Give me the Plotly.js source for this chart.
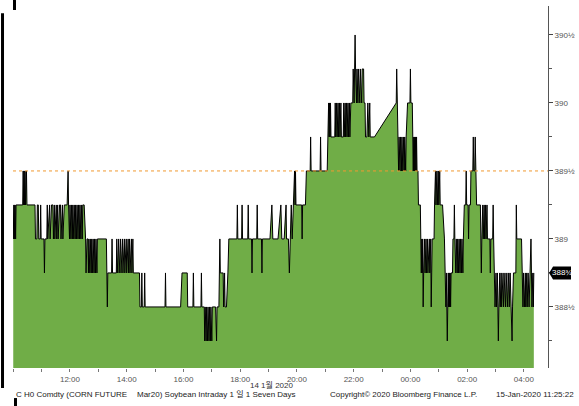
<!DOCTYPE html>
<html><head><meta charset="utf-8">
<script src="https://cdn.plot.ly/plotly-3.0.1.min.js"></script>
<style>html,body{margin:0;padding:0;background:#fff;}#chart{width:579px;height:406px;}</style>
</head><body><div id="chart"></div>
<script>
// Day session ticks (14 Jan 2020, KST) : [time, price]
const daySession = [
["10:00",389.25],["10:01",389],["10:02",389.25],["10:03",389],["10:04",389.25],["10:05",389],["10:06",389.25],
["10:20",389.25],["10:21",389.5],["10:22",389.25],["10:23",389.5],["10:24",389.25],["10:25",389.5],["10:26",389.25],["10:28",389.5],["10:29",389.25],
["10:46",389.25],["10:47",389],["10:50",389],["10:51",389.25],["10:53",389.25],["10:54",389],["10:57",389],["10:58",389.25],["10:59",389],
["11:05",389],["11:06",388.75],["11:07",389],
["11:11",389],["11:12",389.25],["11:13",389],["11:17",389.25],["11:18",389],["11:21",389.25],["11:24",389.25],["11:25",389],["11:27",389.25],["11:28",389],["11:31",389.25],["11:32",389],["11:34",389.25],["11:35",389],["11:38",389.25],["11:40",389.25],["11:41",389],["11:44",389.25],["11:45",389],["11:48",389.25],["11:54",389.25],["11:56",389.5],["11:57",389.25],
["11:59",389],["12:00",389.25],["12:02",389],["12:03",389.25],["12:05",389],["12:06",389.25],["12:08",389],["12:09",389.25],["12:11",389],["12:12",389.25],["12:14",389],["12:15",389.25],["12:17",389],["12:18",389.25],["12:20",389],["12:21",389.25],["12:23",389],["12:24",389.25],["12:26",389],["12:27",389.25],["12:30",389.25],
["12:33",389],["12:34",388.75],["12:36",389],["12:38",389],["12:39",388.75],["12:40",389],["12:42",388.75],["12:43",389],["12:45",388.75],["12:46",389],["12:48",388.75],["12:49",389],["12:51",388.75],["12:52",389],["12:54",388.75],["12:55",389],["12:57",388.75],["12:58",389],
["13:17",389],["13:18",388.75],["13:19",388.5],["13:20",388.75],["13:28",388.75],["13:29",389],["13:30",388.75],["13:38",388.75],["13:39",389],["13:40",388.75],
["13:43",389],["13:44",388.75],["13:47",389],["13:48",388.75],["13:51",389],["13:52",388.75],["13:55",389],["13:56",388.75],["13:59",389],["14:00",388.75],["14:03",389],["14:04",388.75],["14:06",389],["14:07",388.75],["14:10",389],["14:11",388.75],["14:13",389],["14:14",388.75],
["14:27",388.75],["14:28",388.5],["14:31",388.5],["14:32",388.75],["14:33",388.5],["14:37",388.5],["14:38",388.75],["14:39",388.5],
["15:21",388.5],["15:22",388.75],["15:23",388.5],
["15:54",388.5],["15:57",388.75],["16:08",388.75],["16:09",388.5],
["16:20",388.5],["16:21",388.75],["16:22",388.5],["16:37",388.5],["16:38",388.75],["16:39",388.5],
["16:44",388.5],["16:45",388.25],["16:46",388.5],["16:48",388.25],["16:49",388.5],["16:51",388.25],["16:52",388.5],["16:54",388.25],["16:55",388.5],["16:57",388.25],["16:58",388.5],["17:00",388.25],["17:01",388.5],
["17:08",388.5],["17:10",388.25],["17:11",388.5],
["17:15",388.5],["17:17",389],["17:18",388.75],["17:24",388.75],["17:25",388.5],["17:27",388.75],["17:28",388.5],["17:31",388.5],["17:34",388.75],["17:36",389],
["17:53",389],["17:54",389.25],["17:55",389],["18:03",389],["18:04",389.25],["18:05",389],["18:16",389],["18:17",389.25],["18:18",389],["18:24",389],["18:25",388.75],["18:26",389],["18:35",389],["18:36",389.25],["18:37",389],["18:45",389],["18:46",388.75],["18:47",389],["19:03",389],["19:07",389.25],["19:09",389],["19:20",389],["19:26",389.25],["19:28",389],["19:33",389],["19:37",389.25],["19:38",389],["19:42",389],["19:44",388.75],["19:46",389],["19:48",389.25],["19:50",389],["19:52",389.25],["19:55",389.5],["19:56",389.25],["19:57",389.5],["19:58",389.25],
["20:10",389.25],["20:11",389],["20:12",389.25],["20:18",389.25],["20:20",389.5],
["20:28",389.5],["20:29",389.75],["20:30",389.5],["20:49",389.5],["20:50",389.75],["20:51",389.5],["21:04",389.5],
["21:06",389.75],["21:07",390],["21:08",389.75],["21:09",390],["21:10",389.75],["21:11",390],["21:12",389.75],["21:20",389.75],["21:21",390],["21:22",389.75],["21:24",390],["21:25",389.75],["21:27",390],["21:28",389.75],["21:30",390],["21:31",389.75],["21:33",390],["21:34",389.75],["21:38",389.75],["21:39",390],["21:40",389.75],["21:42",390],["21:43",389.75],["21:45",390],["21:46",389.75],["21:48",390],["21:49",389.75],["21:51",390],["21:52",389.75],["21:54",390],
["21:58",390],["21:59",390.25],["22:01",390],["22:02",390.25],["22:03",390.5],["22:04",390.25],["22:06",390],["22:07",390.25],["22:09",390],["22:10",390.25],["22:13",390],["22:14",390.25],["22:17",390],["22:18",390.25],["22:21",390.25],["22:22",390],["22:24",390],["22:25",389.75],["22:28",389.75],["22:30",390],["22:32",389.75],["22:34",390],["22:35",389.75],["22:44",389.75]
];
// Night session ticks (continuing into 15 Jan 2020, KST)
const nightSession = [
["23:30",390],["23:31",390.25],["23:32",390],
["23:34",389.75],["23:35",389.5],["23:36",389.75],["23:38",389.5],["23:39",389.75],["23:41",389.5],["23:42",389.75],["23:44",389.5],["23:45",389.75],["23:47",389.5],["23:48",389.75],["23:50",389.5],["23:51",389.75],
["23:54",390],["23:59",390],["00:00",390.25],["00:01",390],["00:04",390],["00:05",389.75],["00:06",389.5],["00:07",389.75],["00:08",389.5],["00:09",389.75],["00:10",389.5],["00:11",389.75],["00:12",389.5],["00:13",389.75],["00:14",389.5],
["00:16",389.5],["00:17",389.25],["00:21",389.25],["00:22",389],
["00:23",388.75],["00:24",389],["00:25",388.75],["00:26",389],["00:27",388.5],["00:28",388.75],["00:30",389],["00:31",388.75],["00:33",389],["00:34",388.75],["00:36",389],["00:37",388.75],["00:40",389],["00:41",388.75],["00:43",389],["00:44",388.5],["00:45",388.75],["00:46",389],
["00:50",389],["00:51",389.25],["00:53",389.5],["00:54",389.25],["00:56",389.5],["00:57",389.25],["00:59",389.5],["01:00",389.25],["01:02",389.5],["01:03",389.25],["01:08",389.25],
["01:12",389],["01:13",388.75],["01:15",388.5],["01:16",388.75],["01:18",388.25],["01:19",388.5],["01:20",388.75],["01:21",388.5],["01:22",388.75],["01:23",388.5],["01:24",388.75],["01:25",388.5],["01:26",388.75],
["01:29",388.75],["01:30",389],["01:32",389],["01:33",389.25],["01:34",389],["01:36",388.75],["01:37",389],["01:39",388.75],["01:40",389],["01:42",388.75],["01:43",389],["01:45",388.75],["01:46",389],["01:48",388.75],["01:49",389],["01:51",388.75],["01:52",389],
["01:54",389.25],["01:57",389.25],["01:58",389.5],["01:59",389.25],["02:02",389.25],["02:03",389],["02:04",389.25],
["02:07",389.25],["02:08",389.5],["02:12",389.5],["02:13",389.75],["02:14",389.5],["02:16",389.5],["02:17",389.75],["02:18",389.5],["02:20",389.25],
["02:28",389.25],["02:29",389],["02:30",388.75],["02:31",389],
["02:33",389.25],["02:34",389],["02:36",389.25],["02:37",389],["02:39",389.25],["02:40",389],["02:42",389.25],["02:43",389],["02:45",389],["02:48",389],["02:49",388.75],["02:50",389],["02:54",389],["02:55",389.25],["02:56",389],
["02:58",388.75],["02:59",388.5],["03:01",388.75],["03:02",388.5],["03:04",388.75],["03:05",388.5],["03:06",388.25],["03:07",388.5],["03:09",388.75],["03:10",388.5],["03:12",388.75],["03:13",388.5],["03:16",388.75],["03:17",388.5],["03:20",388.75],["03:21",388.5],["03:24",388.75],["03:25",388.5],["03:28",388.75],["03:29",388.5],["03:31",388.75],["03:33",388.5],["03:35",388.25],["03:36",388.5],["03:38",388.75],
["03:43",388.75],["03:44",389.25],["03:45",389],["03:55",389],["03:56",388.75],["03:58",388.5],["03:59",388.75],["04:01",388.5],["04:03",388.75],["04:04",388.5],["04:06",388.75],["04:07",388.5],["04:09",388.75],["04:11",388.5],["04:13",388.75],["04:15",389],["04:16",388.75],["04:17",388.5],["04:19",388.75],["04:20",388.5],["04:21",388.75]
];
const refLevel = 389.5;
const xTickVals = ["2020-01-14 12:00","2020-01-14 14:00","2020-01-14 16:00","2020-01-14 18:00","2020-01-14 20:00","2020-01-14 22:00","2020-01-15 00:00","2020-01-15 02:00","2020-01-15 04:00"];
const xTickText = ["12:00","14:00","16:00","18:00","20:00","22:00","00:00","02:00","04:00"];
const yTickVals = [388.5, 389, 389.5, 390, 390.5];
const yMinorVals = [388.25, 388.75, 389.25, 389.75, 390.25];
const footerLeft1 = "C H0 Comdty (CORN FUTURE";
const footerLeft2 = "Mar20) Soybean Intraday 1 일 1 Seven Days";
const footerCopy = "Copyright© 2020 Bloomberg Finance L.P.";
const footerStamp = "15-Jan-2020 11:25:22";
const dateLabel = "14 1월 2020";

function toDate(hm){ const h = parseInt(hm.slice(0,2),10); return "2020-01-" + (h >= 10 ? "14" : "15") + " " + hm; }
function fracLabel(v){
  const ip = Math.floor(v), f = v - ip;
  const m = {0:"",0.25:"¼",0.5:"½",0.75:"¾"};
  return ip + (m[f] || "");
}
const allTicks = daySession.concat(nightSession);
const times = allTicks.map(p => toDate(p[0]));
const prices = allTicks.map(p => p[1]);
const lastPrice = prices[prices.length-1];

const FONT = '"Liberation Sans", Arial, "Noto Sans CJK KR", sans-serif';
const trace = {
  type:'scatter', mode:'lines', x:times, y:prices,
  line:{color:'#000', width:1}, fill:'tozeroy', fillcolor:'#70ad47', hoverinfo:'skip'
};
const layout = {
  width:579, height:406, margin:{l:13, r:31, t:6, b:38},
  paper_bgcolor:'#fff', plot_bgcolor:'#fff', showlegend:false,
  font:{family:FONT, size:8, color:'#222'},
  xaxis:{type:'date', range:['2020-01-14 09:59:30','2020-01-15 04:51'],
    tickmode:'array', tickvals:xTickVals, ticktext:xTickText,
    ticks:'outside', ticklen:3, tickcolor:'#777', tickfont:{size:8, color:'#555', family:FONT},
    showgrid:false, zeroline:false, showline:false,
    minor:{dtick:3600000, tick0:'2020-01-14 00:00', ticks:'outside', ticklen:3, tickcolor:'#777'}},
  yaxis:{side:'right', range:[388.051, 390.713], tickmode:'array', tickvals:yTickVals,
    ticktext:yTickVals.map(fracLabel), ticks:'outside', ticklen:4, tickcolor:'#444',
    tickfont:{size:8, color:'#555', family:FONT},
    showline:true, linecolor:'#555', linewidth:1, showgrid:false, zeroline:false,
    minor:{tickmode:'array', tickvals:yMinorVals, ticks:'outside', ticklen:3, tickcolor:'#555'}},
  shapes:[
    {type:'line', xref:'paper', yref:'y', x0:0, x1:1, y0:refLevel, y1:refLevel, layer:'above',
     line:{color:'#f09a30', width:1, dash:'dot'}},
    {type:'path', xref:'paper', yref:'y', layer:'above', fillcolor:'#000', line:{width:0},
     path:`M 1.002,${lastPrice} L 1.0095,${lastPrice+0.048} L 1.043,${lastPrice+0.048} L 1.043,${lastPrice-0.048} L 1.0095,${lastPrice-0.048} Z`},
    {type:'rect', xref:'paper', yref:'paper', x0:-0.0224, x1:-0.0168, y0:-0.055, y1:0.98, fillcolor:'#000', line:{width:0}},
    {type:'rect', xref:'paper', yref:'paper', x0:0.0, x1:0.0056, y0:0.989, y1:1.0165, fillcolor:'#000', line:{width:0}},
    {type:'rect', xref:'paper', yref:'paper', x0:0.0019, x1:0.0075, y0:-0.105, y1:-0.083, fillcolor:'#000', line:{width:0}}
  ],
  annotations:[
    {xref:'paper', yref:'y', x:1.026, y:lastPrice, text:fracLabel(lastPrice), showarrow:false,
     font:{color:'#fff', size:8, family:FONT}, xanchor:'center', yanchor:'middle'},
    {xref:'paper', yref:'paper', x:0.484, y:-0.047, text:dateLabel, showarrow:false,
     font:{size:8, color:'#333', family:FONT}, xanchor:'center', yanchor:'middle'},
    {xref:'paper', yref:'paper', x:0.002, y:-0.074, text:footerLeft1, showarrow:false,
     font:{size:8, color:'#222', family:FONT}, xanchor:'left', yanchor:'middle'},
    {xref:'paper', yref:'paper', x:0.228, y:-0.074, text:footerLeft2, showarrow:false,
     font:{size:8, color:'#222', family:FONT}, xanchor:'left', yanchor:'middle'},
    {xref:'paper', yref:'paper', x:0.589, y:-0.074, text:footerCopy, showarrow:false,
     font:{size:8, color:'#222', family:FONT}, xanchor:'left', yanchor:'middle'},
    {xref:'paper', yref:'paper', x:1.052, y:-0.074, text:footerStamp, showarrow:false,
     font:{size:8, color:'#222', family:FONT}, xanchor:'right', yanchor:'middle'}
  ]
};
Plotly.newPlot('chart', [trace], layout, {staticPlot:true, displayModeBar:false});
</script></body></html>
